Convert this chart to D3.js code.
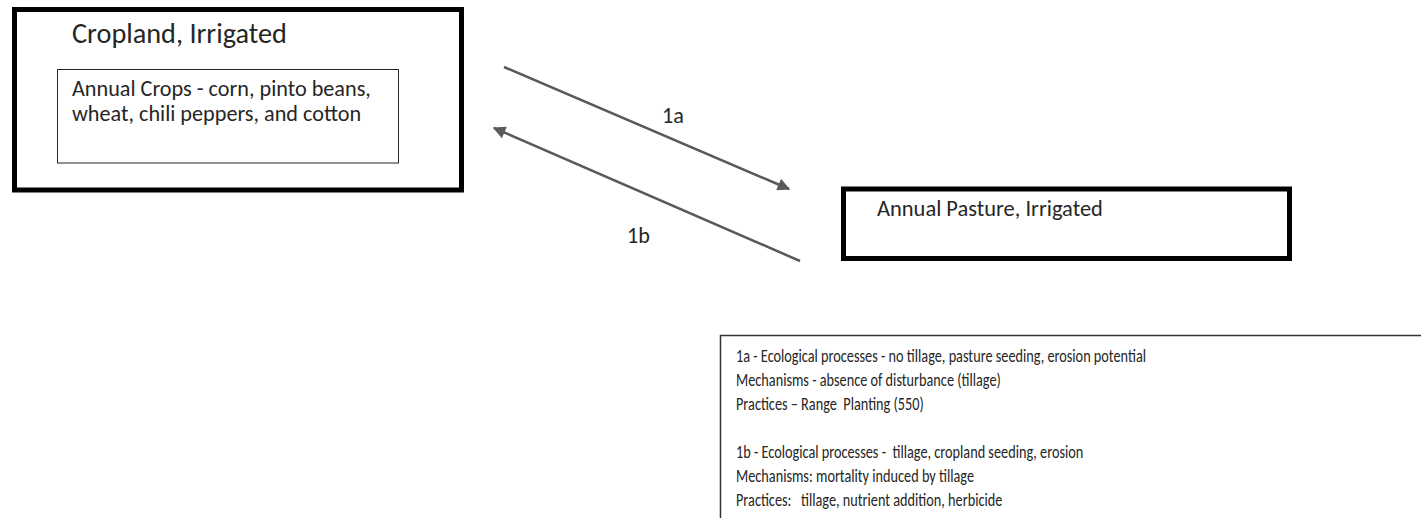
<!DOCTYPE html>
<html>
<head>
<meta charset="utf-8">
<script src="https://cdn.jsdelivr.net/npm/d3@7/dist/d3.min.js"></script>
<style>
  body { margin: 0; background: #fff; }
  svg { display: block; }
  text { font-family: Carlito, "Open Sans", Lato, sans-serif; fill: #262626; white-space: pre; }
</style>
</head>
<body>
<svg id="diagram" width="1421" height="518"></svg>
<script>
// state names
var stateNames = ["Cropland, Irrigated", "Annual Pasture, Irrigated"];

// community text inside the cropland state
var communityLines = ["Annual Crops - corn, pinto beans,", "wheat, chili peppers, and cotton"];

// transitions: from state -> to state
var transitionLabels = ["1a", "1b"];
var transitionFrom = [0, 1];
var transitionTo = [1, 0];

// legend lines ("" = blank line)
var legendLines = [
  "1a - Ecological processes - no tillage, pasture seeding, erosion potential",
  "Mechanisms - absence of disturbance (tillage)",
  "Practices \u2013 Range  Planting (550)",
  "",
  "1b - Ecological processes -  tillage, cropland seeding, erosion",
  "Mechanisms: mortality induced by tillage",
  "Practices:   tillage, nutrient addition, herbicide"
];

var svg = d3.select("#diagram");

// layout
var boxes = [
  {x: 14.5, y: 9.5, w: 447, h: 180.5, title: [72, 43], fit: 215},
  {x: 843.5, y: 189, w: 446, h: 69.5, title: [877, 216], fit: 226}
];
var innerBox = {x: 57.5, y: 69.5, w: 341, h: 93.5};
var arrowPts = [
  [[504, 67], [789, 189]],
  [[800, 261], [494, 128]]
];
var labelPos = [[662, 123], [627, 243]];
var legendBox = {x: 720.5, y: 335.5};
var legendY = d3.scaleLinear().domain([0, 1]).range([361.5, 385.5]);

// font size so a text fills a width
var fitFont = function(node, width) {
  var base = 20;
  d3.select(node).style("font-size", base + "px");
  var len = node.getComputedTextLength();
  var size = base * width / len;
  d3.select(node).style("font-size", size + "px");
  return size;
};

// arrow head
svg.append("defs").append("marker")
    .attr("id", "head")
    .attr("viewBox", "0 0 10 10")
    .attr("refX", 9).attr("refY", 5)
    .attr("markerWidth", 5.5).attr("markerHeight", 5)
    .attr("markerUnits", "strokeWidth")
    .attr("orient", "auto")
  .append("path")
    .attr("d", "M0,0L10,5L0,10z")
    .attr("fill", "#595959");

// state boxes
var state = svg.selectAll(".state")
    .data(stateNames)
    .enter()
    .append("g")
    .attr("class", "state");

state.append("rect")
    .attr("x", function(d, i) { return boxes[i].x; })
    .attr("y", function(d, i) { return boxes[i].y; })
    .attr("width", function(d, i) { return boxes[i].w; })
    .attr("height", function(d, i) { return boxes[i].h; })
    .attr("fill", "none")
    .attr("stroke", "#000")
    .attr("stroke-width", 5);

state.append("text")
    .attr("x", function(d, i) { return boxes[i].title[0]; })
    .attr("y", function(d, i) { return boxes[i].title[1]; })
    .text(function(d) { return d; })
    .each(function(d, i) { fitFont(this, boxes[i].fit); });

// community box
svg.append("rect")
    .attr("x", innerBox.x).attr("y", innerBox.y)
    .attr("width", innerBox.w).attr("height", innerBox.h)
    .attr("fill", "none")
    .attr("stroke", "#262626")
    .attr("stroke-width", 1);

var community = svg.selectAll(".community")
    .data(communityLines)
    .enter()
    .append("text")
    .attr("class", "community")
    .attr("x", 72)
    .attr("y", function(d, i) { return 96 + i * 25; })
    .text(function(d) { return d; });
var commSize = fitFont(community.node(), 299);
community.style("font-size", commSize + "px");

// transitions
var trans = svg.selectAll(".trans")
    .data(transitionLabels)
    .enter()
    .append("g")
    .attr("class", "trans")
    .attr("data-from", function(d, i) { return transitionFrom[i]; })
    .attr("data-to", function(d, i) { return transitionTo[i]; });

trans.append("line")
    .attr("x1", function(d, i) { return arrowPts[i][0][0]; })
    .attr("y1", function(d, i) { return arrowPts[i][0][1]; })
    .attr("x2", function(d, i) { return arrowPts[i][1][0]; })
    .attr("y2", function(d, i) { return arrowPts[i][1][1]; })
    .attr("stroke", "#595959")
    .attr("stroke-width", 2.5)
    .attr("marker-end", "url(#head)");

trans.append("text")
    .attr("x", function(d, i) { return labelPos[i][0]; })
    .attr("y", function(d, i) { return labelPos[i][1]; })
    .style("font-size", commSize + "px")
    .text(function(d) { return d; });

// legend
svg.append("rect")
    .attr("x", legendBox.x).attr("y", legendBox.y)
    .attr("width", 800).attr("height", 300)
    .attr("fill", "none")
    .attr("stroke", "#333")
    .attr("stroke-width", 1.5);

var legend = svg.selectAll(".legend")
    .data(legendLines)
    .enter()
    .append("text")
    .attr("class", "legend")
    .attr("x", 736)
    .attr("y", function(d, i) { return legendY(i); })
    .style("font-size", "18px")
    .text(function(d) { return d; });

// squeeze the legend so the longest line ends where it does in the source
var squeeze = 410 / legend.node().getComputedTextLength();
legend.each(function(d) {
  if (!d) return;
  d3.select(this)
    .attr("textLength", this.getComputedTextLength() * squeeze)
    .attr("lengthAdjust", "spacingAndGlyphs");
});
</script>
</body>
</html>
